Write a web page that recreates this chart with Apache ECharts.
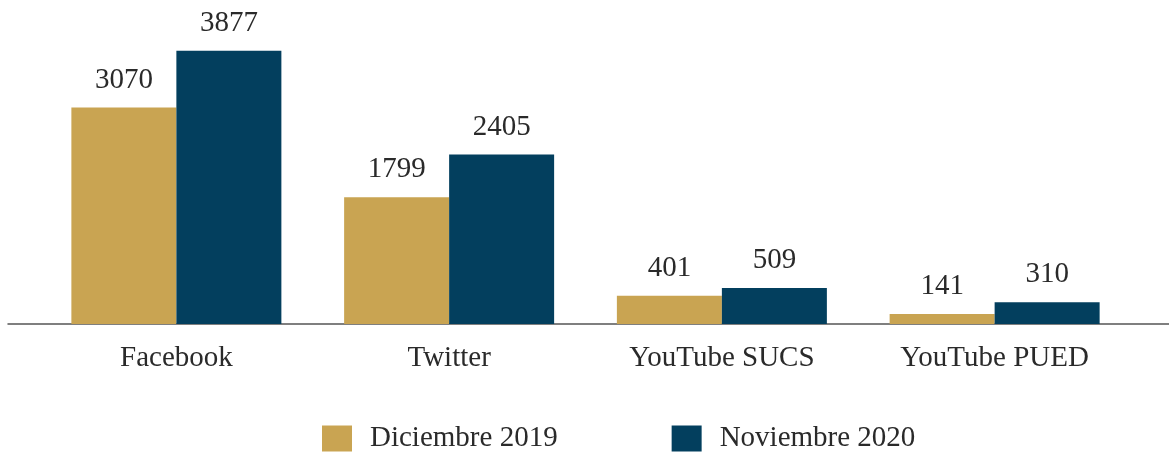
<!DOCTYPE html>
<html>
<head>
<meta charset="utf-8">
<script src="https://cdn.jsdelivr.net/npm/echarts@6/dist/echarts.min.js"></script>
<style>
html,body{margin:0;padding:0;background:#fff;}
#c{width:1169px;height:452px;}
</style>
</head>
<body>
<div id="c"></div>
<script>
const categories = ['Facebook', 'Twitter', 'YouTube SUCS', 'YouTube PUED'];
const seriesNames = ['Diciembre 2019', 'Noviembre 2020'];
const dic2019 = [3070, 1799, 401, 141];
const nov2020 = [3877, 2405, 509, 310];

const FONT = '"Liberation Serif", "DejaVu Serif", serif';
const TXT = '#2a2a2a';
const GOLD = '#C9A452';
const BLUE = '#033F5E';

const chart = echarts.init(document.getElementById('c'), null, {renderer: 'canvas'});

const labelCfg = {
  show: true, position: 'top', distance: 13,
  fontFamily: FONT, fontSize: 29, color: TXT
};

chart.setOption({
  animation: false,
  backgroundColor: '#ffffff',
  grid: [
    {left: 40, right: 38, top: 42, bottom: 128},
    {left: 8, right: 0, top: 42, bottom: 128}
  ],
  legend: {
    data: seriesNames,
    left: 322, top: 424, padding: 0,
    itemWidth: 30, itemHeight: 26,
    itemGap: 114,
    icon: 'rect',
    textStyle: {fontFamily: FONT, fontSize: 29, lineHeight: 29, color: TXT, padding: [0, 0, 0, 13]}
  },
  xAxis: [
    {
      type: 'category', gridIndex: 0, data: categories,
      axisLine: {show: false}, axisTick: {show: false},
      axisLabel: {fontFamily: FONT, fontSize: 29, color: TXT, margin: 20}
    },
    {
      type: 'category', gridIndex: 1, data: [''],
      axisLine: {show: true, lineStyle: {color: '#555555', width: 1.5}},
      axisTick: {show: false}, axisLabel: {show: false}
    }
  ],
  yAxis: [
    {type: 'value', gridIndex: 0, min: 0, max: 4000, show: false, splitLine: {show: false}},
    {type: 'value', gridIndex: 1, min: 0, max: 1, show: false, splitLine: {show: false}}
  ],
  series: [
    {
      name: seriesNames[0], type: 'bar', xAxisIndex: 0, yAxisIndex: 0,
      data: dic2019, barWidth: 105, barGap: '0%',
      itemStyle: {color: GOLD}, label: labelCfg
    },
    {
      name: seriesNames[1], type: 'bar', xAxisIndex: 0, yAxisIndex: 0,
      data: nov2020, barWidth: 105, barGap: '0%',
      itemStyle: {color: BLUE}, label: labelCfg
    }
  ]
});
</script>
</body>
</html>
